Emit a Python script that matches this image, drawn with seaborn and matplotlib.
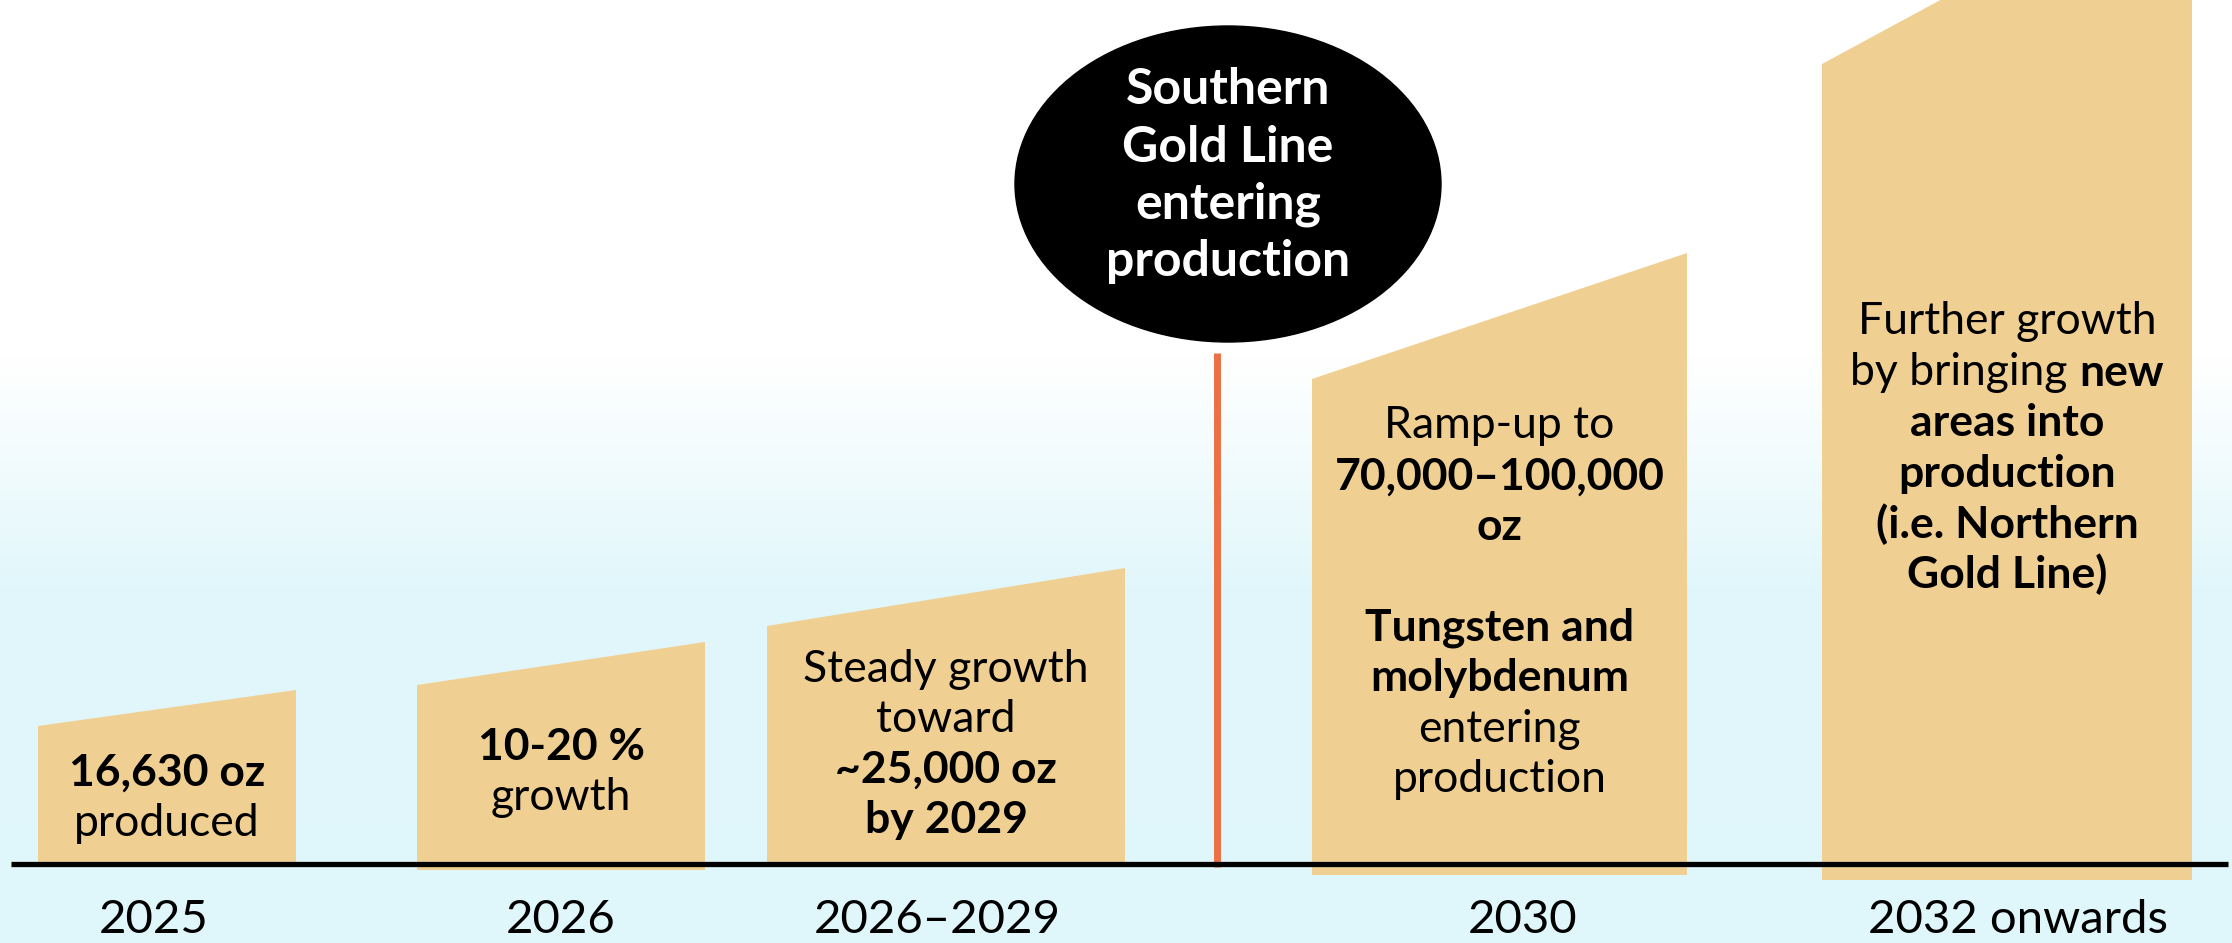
import numpy as np
import matplotlib.pyplot as plt
import seaborn as sns
from matplotlib.colors import LinearSegmentedColormap
from matplotlib.patches import Ellipse

sns.set_theme(style="white")
plt.rcParams['font.family'] = ['Lato', 'DejaVu Sans']

# --- data ---
periods = ["2025", "2026", "2026–2029", "2030", "2032 onwards"]
# column heights above the baseline (left edge / right edge), in picture units
left_height = [138, 179, 238, 485, 800]
right_height = [174, 222, 296, 611, 1000]

# text inside each column: list of lines, each line is a list of (text, bold)
column_text = [
    [[("16,630 oz", True)], [("produced", False)]],
    [[("10-20 %", True)], [("growth", False)]],
    [[("Steady growth", False)], [("toward", False)],
     [("~25,000 oz", True)], [("by 2029", True)]],
    [[("Ramp-up to", False)], [("70,000–100,000", True)], [("oz", True)], [],
     [("Tungsten and", True)], [("molybdenum", True)],
     [("entering", False)], [("production", False)]],
    [[("Further growth", False)], [("by bringing ", False), ("new", True)],
     [("areas into", True)], [("production", True)],
     [("(i.e. Northern", True)], [("Gold Line)", True)]],
]
milestone = ["Southern", "Gold Line", "entering", "production"]

# --- layout ---
W, H = 2232, 943
base_y = 864                      # baseline, px from top
bar_left = [38, 417, 767, 1312, 1822]
bar_right = [296, 705, 1125, 1687, 2192]
bar_bottom = [-3, -6, -3, -11, -16]
text_top = [91, 117, 195, 438, 542]   # first text line, height above baseline
label_x = [154, 561, 937, 1523, 2018]
line_gap = 50.5
bar_color = "#F0CF92"
orange = "#ED7045"

fig = plt.figure(figsize=(W / 100, H / 100), dpi=100)
ax = fig.add_axes([0, 0, 1, 1])
ax.set_xlim(0, W)
ax.set_ylim(base_y - H, base_y)
ax.axis("off")

# background: white fading to pale cyan towards the bottom
cmap = LinearSegmentedColormap.from_list(
    "bg", [(0, "#DFF6FB"), (0.38, "#E2F7FB"), (0.62, "#FFFFFF"), (1, "#FFFFFF")])
grad = np.linspace(0, 1, 256).reshape(-1, 1)
ax.imshow(grad, cmap=cmap, aspect="auto", origin="lower",
          extent=[0, W, base_y - H, base_y], zorder=0)

# columns with slanted tops
for i in range(len(periods)):
    xl, xr = bar_left[i], bar_right[i]
    ax.fill([xl, xl, xr, xr],
            [bar_bottom[i], left_height[i], right_height[i], bar_bottom[i]],
            color=bar_color, lw=0, zorder=2)

# baseline and milestone marker
ax.hlines(0, 11, 2228, color="black", lw=3.8, zorder=4)
ax.vlines(1217, -3, 511, color=orange, lw=5, zorder=3)
ax.add_patch(Ellipse((1228, base_y - 184), 426, 316, color="black", zorder=5))

renderer = fig.canvas.get_renderer()


def draw_line(x, y, parts, size, color="black"):
    texts = []
    for txt, bold in parts:
        t = ax.text(0, y, txt, fontsize=size, color=color, va="center", ha="left",
                    fontweight="bold" if bold else "normal", zorder=6)
        texts.append(t)
    inv = ax.transData.inverted()
    widths = []
    for t in texts:
        bb = t.get_window_extent(renderer)
        widths.append(inv.transform((bb.x1, 0))[0] - inv.transform((bb.x0, 0))[0])
    start = x - sum(widths) / 2
    for t, w in zip(texts, widths):
        t.set_x(start)
        start += w


for i, lines in enumerate(column_text):
    cx = (bar_left[i] + bar_right[i]) / 2
    for k, parts in enumerate(lines):
        if parts:
            draw_line(cx, text_top[i] - k * line_gap, parts, 32)

for k, line in enumerate(milestone):
    draw_line(1228, base_y - 90 - k * 57, [(line, True)], 36, color="white")

for x, lab in zip(label_x, periods):
    ax.text(x, -56, lab, fontsize=34, ha="center", va="center", color="black",
            zorder=6)

fig.savefig("out.png", dpi=100)
